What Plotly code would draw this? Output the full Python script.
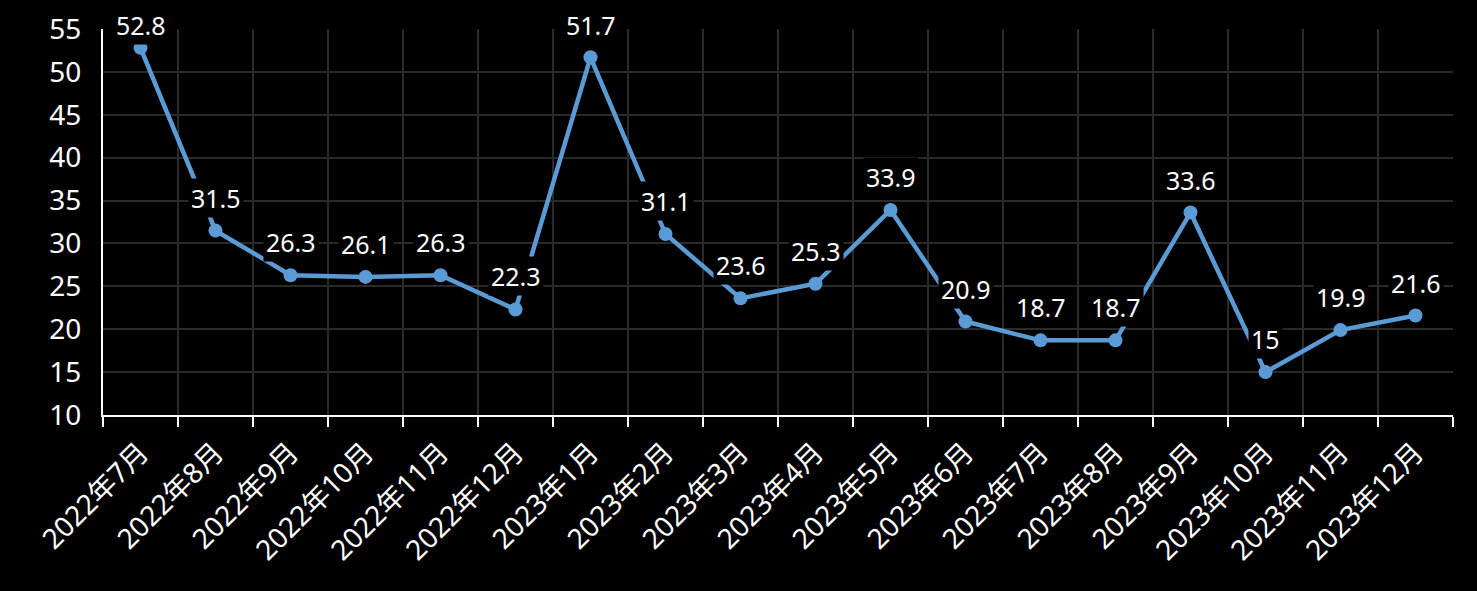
import plotly.graph_objects as go

categories = ["2022年7月", "2022年8月", "2022年9月", "2022年10月", "2022年11月", "2022年12月",
              "2023年1月", "2023年2月", "2023年3月", "2023年4月", "2023年5月", "2023年6月",
              "2023年7月", "2023年8月", "2023年9月", "2023年10月", "2023年11月", "2023年12月"]
values = [52.8, 31.5, 26.3, 26.1, 26.3, 22.3, 51.7, 31.1, 23.6, 25.3, 33.9, 20.9,
          18.7, 18.7, 33.6, 15, 19.9, 21.6]
labels = ["52.8", "31.5", "26.3", "26.1", "26.3", "22.3", "51.7", "31.1", "23.6", "25.3", "33.9", "20.9",
          "18.7", "18.7", "33.6", "15", "19.9", "21.6"]

FONT = "Noto Sans, Noto Sans CJK SC, sans-serif"
LINE = "#5B9BD5"

Y_MIN, Y_MAX = 10, 55
PLOT_H = 591 - 29 - 176
PX_PER_UNIT = PLOT_H / (Y_MAX - Y_MIN)

fig = go.Figure()
fig.add_trace(go.Scatter(
    x=categories, y=values, mode="lines+markers",
    line=dict(color=LINE, width=4.5),
    marker=dict(color=LINE, size=14),
    hoverinfo="x+y", showlegend=False,
))

for c, v, t in zip(categories, values, labels):
    # keep label inside the figure: clamp its centre to ~25px from the top
    room = (Y_MAX - v) * PX_PER_UNIT + 29 - 25
    shift = min(33, room)
    fig.add_annotation(
        x=c, y=v, text=t, showarrow=False, yshift=shift,
        font=dict(family=FONT, size=25, color="white"),
        bgcolor="black", borderpad=2,
    )

fig.update_layout(
    width=1477, height=591,
    paper_bgcolor="black", plot_bgcolor="black",
    margin=dict(l=103, r=24, t=29, b=176, autoexpand=False),
    font=dict(family=FONT, color="white"),
)
fig.update_xaxes(
    type="category", tickson="boundaries", automargin=False,
    showgrid=True, gridcolor="#2a2a2a", gridwidth=1.5,
    showline=True, linecolor="white", linewidth=2,
    ticks="outside", ticklen=10, tickcolor="white", tickwidth=2,
    ticklabelstandoff=8,
    tickangle=-45, tickfont=dict(family=FONT, size=28, color="white"),
    range=[-0.5, len(categories) - 0.5],
)
fig.update_yaxes(
    range=[Y_MIN, Y_MAX], dtick=5, tick0=10, automargin=False,
    showgrid=True, gridcolor="#2a2a2a", gridwidth=1.5,
    showline=True, linecolor="white", linewidth=2,
    ticks="", ticklabelstandoff=14,
    tickfont=dict(family=FONT, size=28, color="white"),
    zeroline=False,
)

fig.write_html("out.html")
